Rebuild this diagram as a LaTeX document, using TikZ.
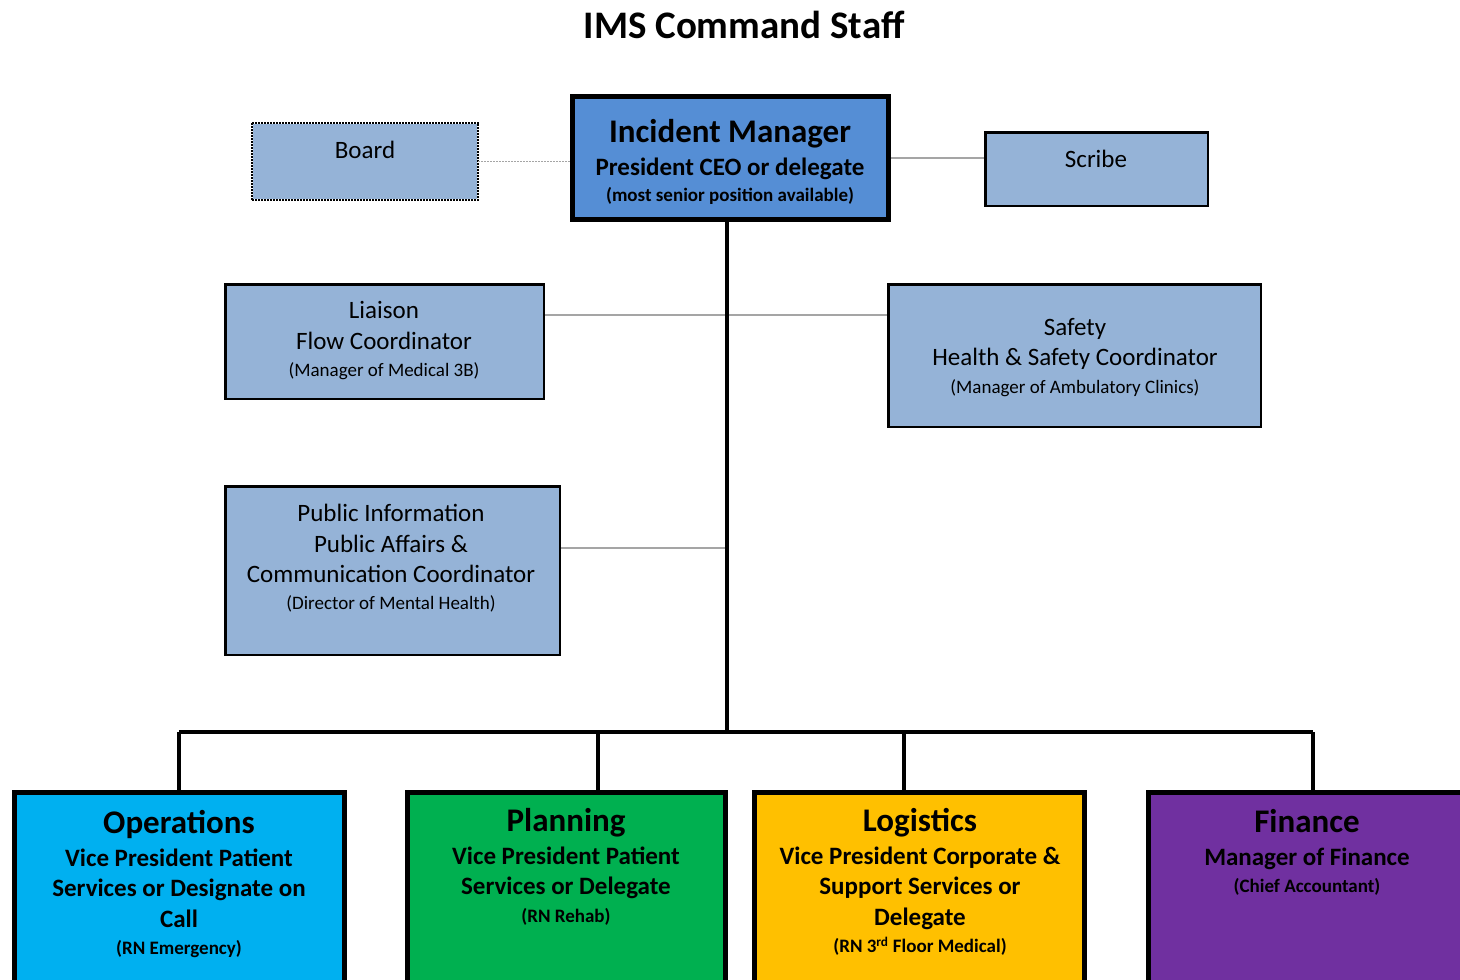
\documentclass[tikz,border=0pt]{standalone}
\usepackage{fontspec}
\setmainfont{Carlito}
\usetikzlibrary{positioning}

\definecolor{imblue}{RGB}{85,142,213}
\definecolor{paleblue}{RGB}{149,179,215}
\definecolor{opsblue}{RGB}{0,176,240}
\definecolor{plangreen}{RGB}{0,176,80}
\definecolor{logorange}{RGB}{255,192,0}
\definecolor{finpurple}{RGB}{112,48,160}
\definecolor{linkgray}{RGB}{165,165,165}

\newcommand{\headtxt}{\fontsize{33}{38}\selectfont}
\newcommand{\notetxt}{\fontsize{19}{23}\selectfont}

\tikzset{
	staffbox/.style={draw=black, line width=2.5pt, fill=paleblue, inner sep=0pt},
	sectbox/.style={draw=black, line width=5pt, inner sep=0pt, minimum height=230pt},
	boxtext/.style={align=center, inner sep=0pt, font=\fontsize{25}{30.5}\selectfont},
	secttext/.style={boxtext, font=\bfseries\fontsize{25}{30.5}\selectfont},
	link/.style={draw=linkgray, line width=1.5pt},
	trunk/.style={draw=black, line width=3.5pt},
	bus/.style={draw=black, line width=4pt}
}

\begin{document}
\begin{tikzpicture}[x=1pt,y=-1pt]
	% la page
	\clip (0,0) rectangle (1460,980);
	\node[font=\bfseries\fontsize{39}{46}\selectfont] (title) at (744,25) {IMS Command Staff};

	% le commandant et ses voisins
	\node[staffbox, line width=5pt, fill=imblue, minimum width=316pt, minimum height=123pt] (im) at (730.5,158) {};
	\node[secttext] (im-t) at (730,162) {{\headtxt Incident Manager}\\[2pt]President CEO or delegate\\[-4pt]{\notetxt (most senior position available)}};
	\node[staffbox, draw=none, minimum width=224pt, minimum height=75pt] (board) at (365,161.5) {};
	\draw[line width=2pt, dash pattern=on 2pt off 1pt] (board.north west) rectangle (board.south east);
	\node[boxtext] (board-t) at (365,150) {Board};
	\node[staffbox, minimum width=222.5pt, minimum height=73.5pt] (scribe) at (1096.5,169) {};
	\node[boxtext] (scribe-t) at (1096,159) {Scribe};

	% les coordinateurs
	\node[staffbox, minimum width=318.5pt, minimum height=114.5pt] (liaison) at (384.5,341.5) {};
	\node[boxtext] (liaison-t) at (384,341) {Liaison\\Flow Coordinator\\[-3pt]{\notetxt (Manager of Medical 3B)}};
	\node[staffbox, minimum width=372.5pt, minimum height=142.5pt] (safety) at (1074.5,355.5) {};
	\node[boxtext] (safety-t) at (1075,357.5) {Safety\\Health \& Safety Coordinator\\[-3pt]{\notetxt (Manager of Ambulatory Clinics)}};
	\node[staffbox, minimum width=334.5pt, minimum height=168.5pt] (public) at (392.5,570.5) {};
	\node[boxtext] (public-t) at (391,558) {Public Information\\Public Affairs \&\\Communication Coordinator\\[-4pt]{\notetxt (Director of Mental Health)}};

	% les sections
	\node[sectbox, fill=opsblue, minimum width=330pt, anchor=north] (ops) at (179.5,789.5) {};
	\node[secttext] (ops-t) at (179,884) {{\headtxt Operations}\\[2pt]Vice President Patient\\Services or Designate on\\Call\\[-3pt]{\notetxt (RN Emergency)}};
	\node[sectbox, fill=plangreen, minimum width=318pt, anchor=north] (plan) at (566.5,789.5) {};
	\node[secttext] (plan-t) at (566,867) {{\headtxt Planning}\\[2pt]Vice President Patient\\Services or Delegate\\[-3pt]{\notetxt (RN Rehab)}};
	\node[sectbox, fill=logorange, minimum width=330pt, anchor=north] (log) at (919.5,789.5) {};
	\node[secttext] (log-t) at (920,882) {{\headtxt Logistics}\\[2pt]Vice President Corporate \&\\Support Services or\\Delegate\\[-3pt]{\notetxt (RN 3\textsuperscript{rd} Floor Medical)}};
	\node[sectbox, fill=finpurple, minimum width=317pt, anchor=north] (fin) at (1307,789.5) {};
	\node[secttext] (fin-t) at (1307,852.5) {{\headtxt Finance}\\[2pt]Manager of Finance\\[-3pt]{\notetxt (Chief Accountant)}};

	% les liens
	\coordinate (hub) at (727,732);
	\coordinate (lia-j) at (727,315);
	\coordinate (pub-j) at (727,548);
	\draw[link, dash pattern=on 1.5pt off 1.5pt] (board.east) -- (board.east -| im.west);
	\draw[link] (im.east) -- (im.east -| scribe.west);
	\draw[link] (lia-j -| liaison.east) -- (lia-j);
	\draw[link] (lia-j) -- (lia-j -| safety.west);
	\draw[link] (pub-j -| public.east) -- (pub-j);
	\draw[trunk] (hub |- im.south) -- (hub);

	% le bus du bas
	\coordinate (bus-ops) at (179,732);
	\coordinate (bus-plan) at (598,732);
	\coordinate (bus-log) at (904,732);
	\coordinate (bus-fin) at (1313,732);
	\draw[bus] (bus-ops) -- (bus-fin);
	\draw[bus] (bus-ops) -- (bus-ops |- ops.north);
	\draw[bus] (bus-plan) -- (bus-plan |- plan.north);
	\draw[bus] (bus-log) -- (bus-log |- log.north);
	\draw[bus] (bus-fin) -- (bus-fin |- fin.north);
\end{tikzpicture}
\end{document}
